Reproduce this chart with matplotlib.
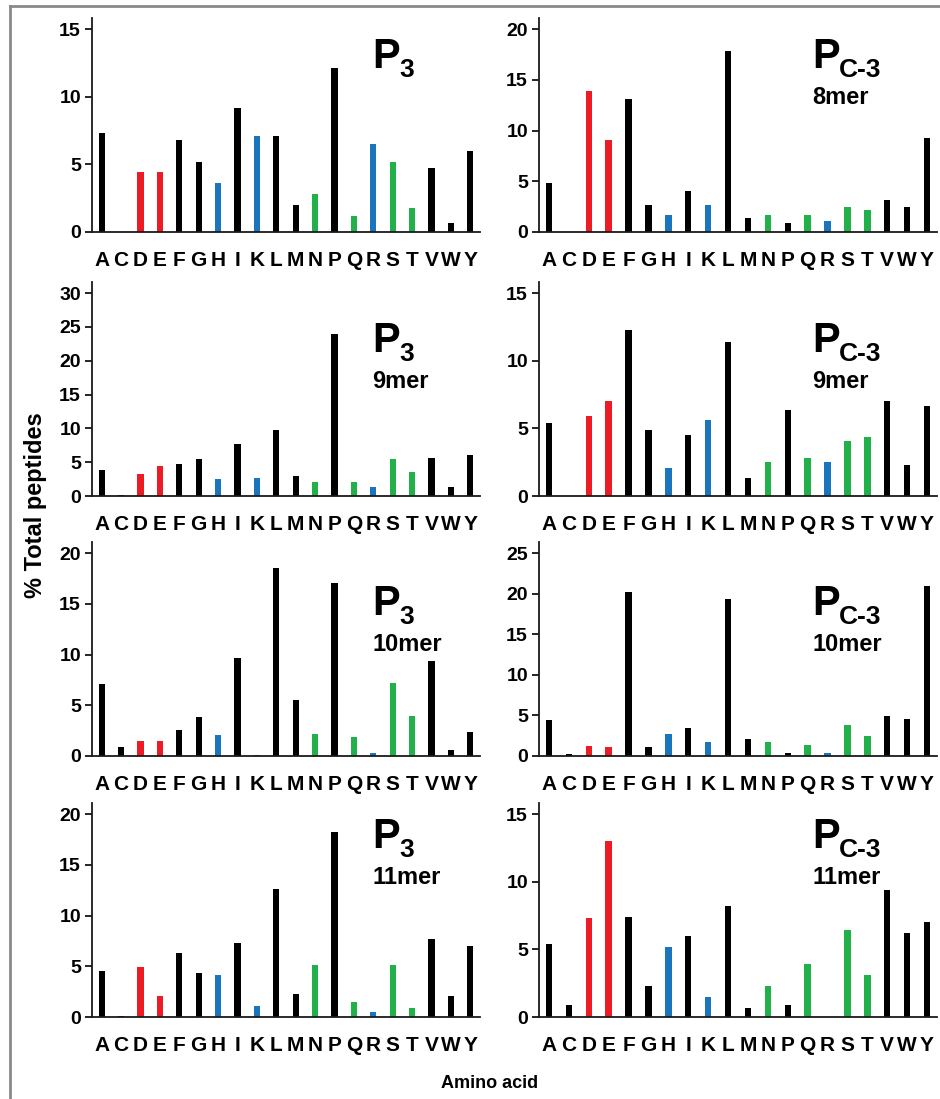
import matplotlib
matplotlib.use("Agg")
import matplotlib.pyplot as plt
from matplotlib import font_manager
from matplotlib.lines import Line2D
from matplotlib.transforms import offset_copy

#аминокислоты по оси x
amino = ["A", "C", "D", "E", "F", "G", "H", "I", "K", "L",
         "M", "N", "P", "Q", "R", "S", "T", "V", "W", "Y"]

#значения, % от всех пептидов
p3_8mer = [7.3, 0, 4.4, 4.4, 6.8, 5.2, 3.6, 9.2, 7.1, 7.1,
           2.0, 2.8, 12.1, 1.2, 6.5, 5.2, 1.8, 4.7, 0.7, 6.0]
pc3_8mer = [4.8, 0, 13.9, 9.1, 13.1, 2.7, 1.7, 4.0, 2.7, 17.8,
            1.4, 1.7, 0.9, 1.7, 1.1, 2.5, 2.2, 3.2, 2.5, 9.3]
p3_9mer = [3.8, 0.15, 3.2, 4.4, 4.75, 5.4, 2.5, 7.7, 2.7, 9.8,
           2.9, 2.0, 23.9, 2.0, 1.3, 5.4, 3.6, 5.6, 1.3, 6.1]
pc3_9mer = [5.4, 0, 5.9, 7.05, 12.3, 4.9, 2.05, 4.5, 5.65, 11.4,
            1.35, 2.5, 6.35, 2.8, 2.5, 4.05, 4.35, 7.05, 2.3, 6.65]
p3_10mer = [7.1, 0.85, 1.5, 1.5, 2.6, 3.85, 2.05, 9.7, 0.1, 18.5,
            5.5, 2.15, 17.05, 1.85, 0.25, 7.2, 3.9, 9.4, 0.6, 2.4]
pc3_10mer = [4.4, 0.3, 1.2, 1.15, 20.2, 1.15, 2.65, 3.45, 1.75, 19.4,
             2.15, 1.75, 0.4, 1.35, 0.4, 3.85, 2.5, 4.9, 4.55, 21.0]
p3_11mer = [4.5, 0.13, 4.9, 2.1, 6.3, 4.3, 4.1, 7.25, 1.1, 12.6,
            2.3, 5.1, 18.2, 1.5, 0.5, 5.1, 0.9, 7.65, 2.1, 7.0]
pc3_11mer = [5.4, 0.9, 7.3, 13.0, 7.4, 2.3, 5.2, 6.0, 1.5, 8.2,
             0.7, 2.3, 0.9, 3.9, 0, 6.4, 3.1, 9.4, 6.2, 7.0]

#цвет по группе аминокислоты
group_colors = {"acid": "#ed1c24", "base": "#1b75bc", "polar": "#22b04b", "other": "#000000"}
groups = {"D": "acid", "E": "acid", "H": "base", "K": "base", "R": "base",
          "N": "polar", "Q": "polar", "S": "polar", "T": "polar"}
colors = [group_colors[groups.get(a, "other")] for a in amino]

panels = [
    (p3_8mer, "3", "", 15),
    (pc3_8mer, "C-3", "8mer", 20),
    (p3_9mer, "3", "9mer", 30),
    (pc3_9mer, "C-3", "9mer", 15),
    (p3_10mer, "3", "10mer", 20),
    (pc3_10mer, "C-3", "10mer", 25),
    (p3_11mer, "3", "11mer", 20),
    (pc3_11mer, "C-3", "11mer", 15),
]

names = {f.name for f in font_manager.fontManager.ttflist}
base_font = "Liberation Sans" if "Liberation Sans" in names else "DejaVu Sans"
plt.rcParams["font.family"] = [base_font, "DejaVu Sans"]
plt.rcParams["font.weight"] = "bold"

W, H = 940, 1099
fig = plt.figure(figsize=(W / 100, H / 100), dpi=100)

#положение осей в пикселях
col_x = [(92, 388), (539, 398)]
row_bottom = [232, 496, 756, 1017]
ax_h = 214
label_x = [0.722, 0.686]
label_y = [0.766, 0.673, 0.659, 0.79]

x = list(range(len(amino)))
for k, (vals, sub, mer, top) in enumerate(panels):
    r, c = divmod(k, 2)
    x0, w = col_x[c]
    ax = fig.add_axes([x0 / W, 1 - row_bottom[r] / H, w / W, ax_h / H])
    ax.bar(x, vals, width=0.32, color=colors)
    ax.set_xlim(-0.5, len(amino) - 0.5)
    ax.set_ylim(0, top * 1.055)
    ax.set_yticks(range(0, top + 1, 5))
    ax.set_xticks(x)
    ax.set_xticklabels(amino)
    for s in ["top", "right"]:
        ax.spines[s].set_visible(False)
    for s in ["left", "bottom"]:
        ax.spines[s].set_linewidth(1.3)
        ax.spines[s].set_color("#1a1a1a")
    ax.tick_params(axis="y", direction="out", length=5, width=1.2, labelsize=14, pad=3)
    ax.tick_params(axis="x", length=0, labelsize=15, pad=14)
    for t in ax.get_xticklabels() + ax.get_yticklabels():
        t.set_fontweight("bold")

    lx, ly = label_x[c], label_y[r]
    ax.text(lx, ly, "P", transform=ax.transAxes, fontsize=30, fontweight="bold",
            va="baseline", ha="left")
    ax.text(lx, ly, sub, transform=offset_copy(ax.transAxes, fig=fig, x=27, y=-9, units="dots"),
            fontsize=19, fontweight="bold", va="baseline", ha="left")
    if mer:
        ax.text(lx, ly, mer, transform=offset_copy(ax.transAxes, fig=fig, x=0, y=-36, units="dots"),
                fontsize=17, fontweight="bold", va="baseline", ha="left")

fig.text(36 / W, 1 - 505 / H, "% Total peptides", rotation=90, ha="center", va="center",
         fontsize=17, fontweight="bold")
fig.text(490 / W, 1 - 1083 / H, "Amino acid", ha="center", va="center",
         fontsize=13, fontweight="bold")

#серая рамка слева и сверху
fig.add_artist(Line2D([10 / W, 10 / W], [0, 1 - 6 / H], transform=fig.transFigure, color="#8a8a8a", lw=2))
fig.add_artist(Line2D([10 / W, 1], [1 - 6 / H, 1 - 6 / H], transform=fig.transFigure, color="#8a8a8a", lw=2))

fig.savefig("out.png", dpi=100)
